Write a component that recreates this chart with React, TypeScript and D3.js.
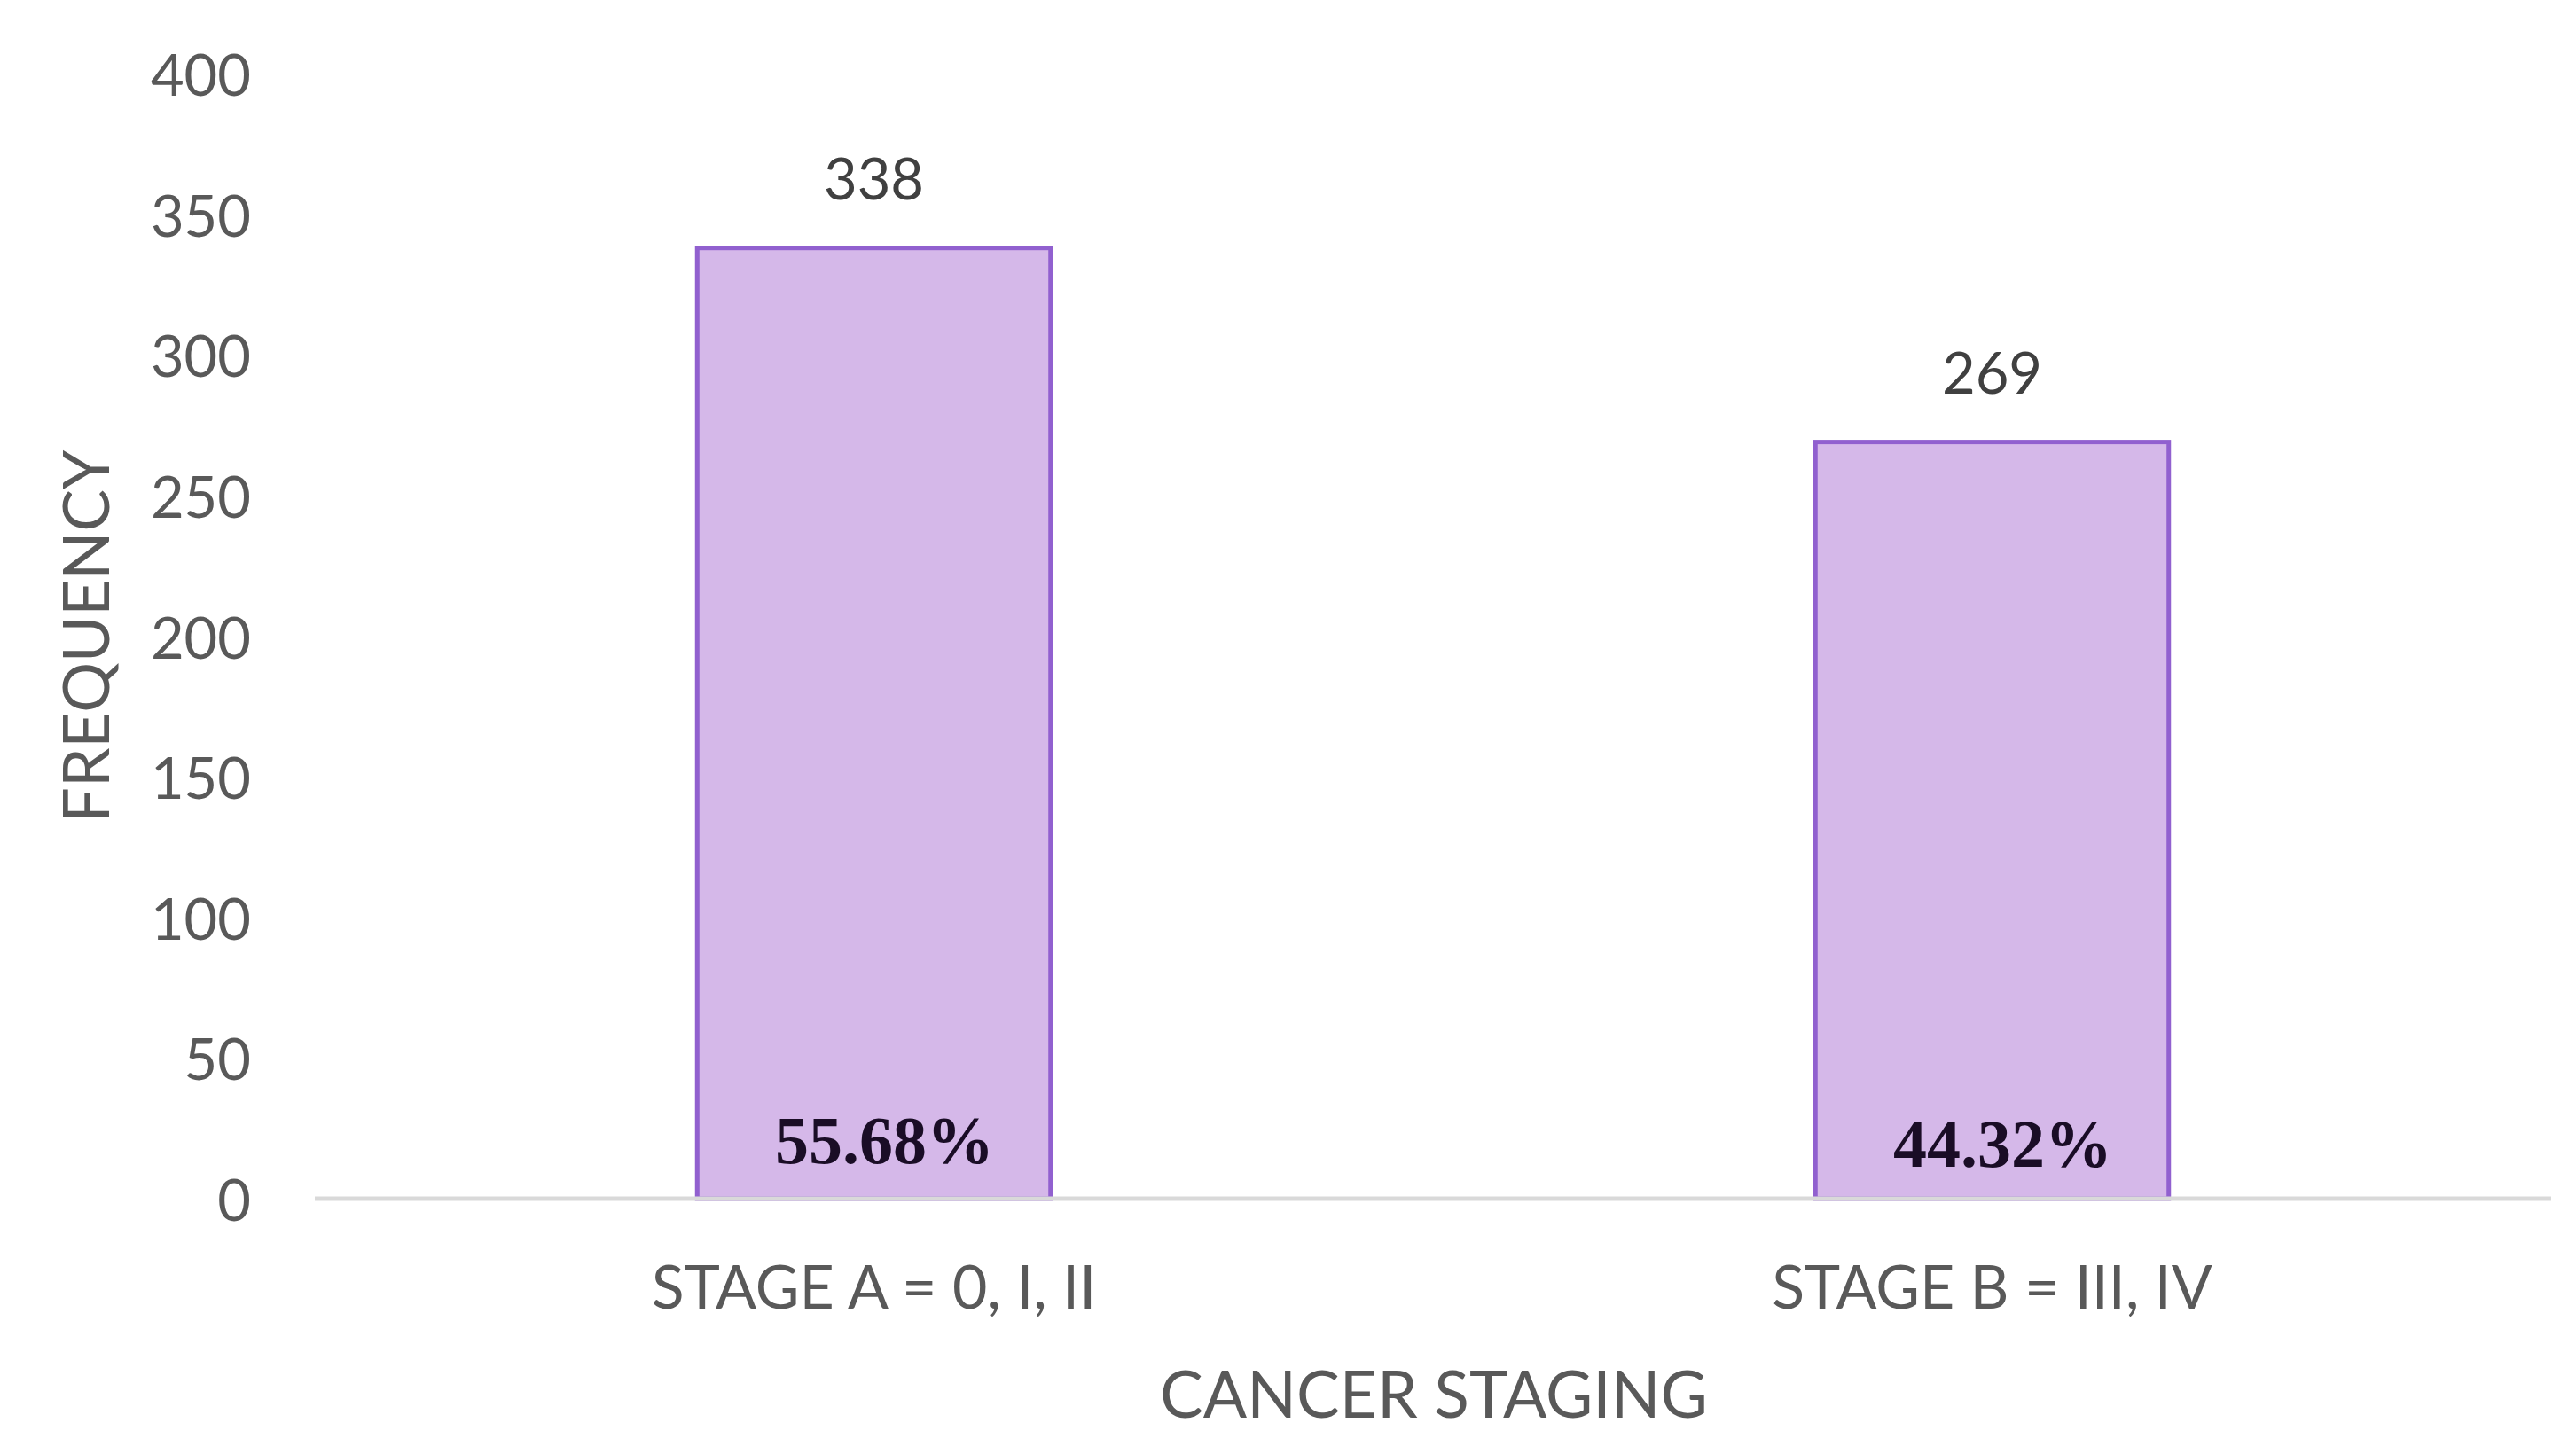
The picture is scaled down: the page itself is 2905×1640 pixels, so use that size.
import React from "react";
import * as d3 from "d3";

const categories: string[] = ["STAGE A = 0, I, II", "STAGE B = III, IV"];
const frequencies: number[] = [338, 269];
const percentLabels: string[] = ["55.68%", "44.32%"];
const yTicks: number[] = [0, 50, 100, 150, 200, 250, 300, 350, 400];
const yTitle = "FREQUENCY";
const xTitle = "CANCER STAGING";

const W = 2905;
const H = 1640;
const FONT = "Lato, 'Liberation Sans', Arial, sans-serif";

export default function App() {
  const y = d3.scaleLinear().domain([0, 400]).range([1352, 83]);
  const x = d3
    .scaleBand<string>()
    .domain(categories)
    .range([355, 2877])
    .paddingInner(0.684)
    .paddingOuter(0.342);
  const bw = x.bandwidth();

  return (
    <svg
      width={W}
      height={H}
      viewBox={`0 0 ${W} ${H}`}
      style={{ position: "absolute", left: 0, top: 0, background: "#ffffff" }}
    >
      <rect x={0} y={0} width={W} height={H} fill="#ffffff" />
      {/* y tick labels */}
      {yTicks.map((t) => (
        <text
          key={t}
          x={283}
          y={y(t)}
          textAnchor="end"
          dominantBaseline="central"
          fontFamily={FONT}
          fontSize={65}
          fill="#595959"
        >
          {t}
        </text>
      ))}
      {/* bars */}
      {categories.map((c, i) => (
        <rect
          key={c}
          x={x(c)!}
          y={y(frequencies[i])}
          width={bw}
          height={y(0) - y(frequencies[i])}
          fill="#d5b8e9"
          stroke="#9160cf"
          strokeWidth={5}
        />
      ))}
      {/* baseline */}
      <line x1={355} x2={2877} y1={y(0)} y2={y(0)} stroke="#d9d9d9" strokeWidth={5} />
      {/* value labels */}
      {categories.map((c, i) => (
        <text
          key={"v" + c}
          x={x(c)! + bw / 2}
          y={y(frequencies[i]) - 80}
          textAnchor="middle"
          dominantBaseline="central"
          fontFamily={FONT}
          fontSize={65}
          fill="#404040"
        >
          {frequencies[i]}
        </text>
      ))}
      {/* percent labels */}
      {categories.map((c, i) => (
        <text
          key={"p" + c}
          x={x(c)! + bw / 2 + 12}
          y={y(0) - 40 + i * 4}
          textAnchor="middle"
          fontFamily="'Liberation Serif', 'Times New Roman', serif"
          fontWeight="bold"
          fontSize={76}
          fill="#1a0d26"
        >
          {percentLabels[i]}
        </text>
      ))}
      {/* category labels */}
      {categories.map((c) => (
        <text
          key={"c" + c}
          x={x(c)! + bw / 2}
          y={1449}
          textAnchor="middle"
          dominantBaseline="central"
          fontFamily={FONT}
          fontSize={68}
          fill="#595959"
        >
          {c}
        </text>
      ))}
      {/* x title */}
      <text
        x={1617}
        y={1571}
        textAnchor="middle"
        dominantBaseline="central"
        fontFamily={FONT}
        fontSize={73}
        fill="#595959"
      >
        {xTitle}
      </text>
      {/* y title */}
      <text
        transform={`translate(95, 718) rotate(-90)`}
        textAnchor="middle"
        dominantBaseline="central"
        fontFamily={FONT}
        fontSize={71}
        fill="#595959"
      >
        {yTitle}
      </text>
    </svg>
  );
}
